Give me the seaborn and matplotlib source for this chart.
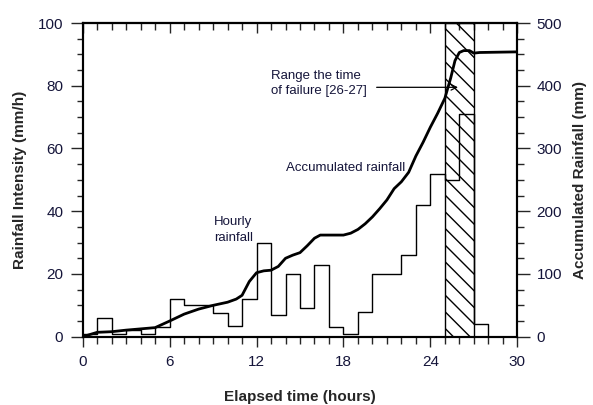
import matplotlib
matplotlib.use("Agg")
import matplotlib.pyplot as plt
import seaborn as sns
import pandas as pd
from matplotlib.ticker import MultipleLocator

# hourly rainfall intensity (mm/h), one value per hour bin [h, h+1)
hours = list(range(30))
hourly = [1, 6, 1, 2, 1, 3, 12, 10, 10, 7.5, 3.5, 12, 30, 7, 20, 9, 23, 3, 1, 8,
          20, 20, 26, 42, 52, 50, 71, 4, 0, 0]

# accumulated rainfall curve (mm)
acc_time = [0, 1, 2, 3, 4, 5, 6, 7, 8, 9, 10, 10.6, 11, 11.5, 12, 12.5, 13, 13.5,
            14, 14.5, 15, 15.5, 16, 16.4, 17, 18, 18.5, 19, 19.5, 20, 20.5, 21,
            21.5, 22, 22.5, 23, 23.5, 24, 24.5, 25, 25.4, 25.7, 26, 26.3, 26.7,
            27, 27.4, 30]
acc_rain = [0, 7, 8, 10.5, 12.5, 14.5, 25, 36, 44, 50, 55, 60, 66, 88, 102, 105,
            106, 112, 125, 130, 134, 145, 157, 162, 162, 162, 165, 171, 180, 191,
            204, 218, 236, 247, 262, 288, 310, 334, 356, 380, 412, 440, 453, 456,
            456, 452, 453, 454]

failure_window = (25, 27)

sns.set_style("ticks")
plt.rcParams["font.family"] = ["Liberation Sans", "DejaVu Sans"]
txt_col = "#15153a"

df_hr = pd.DataFrame({"hour": hours, "rain": hourly})
df_acc = pd.DataFrame({"t": acc_time, "acc": acc_rain})

fig = plt.figure(figsize=(5.93, 4.05), dpi=100)
ax = fig.add_axes([0.1395, 0.1686, 0.7328, 0.7746])

# hatched window for the time of failure
ax.axvspan(*failure_window, facecolor="none", edgecolor="black", hatch="\\\\", lw=1, zorder=1)

sns.histplot(data=df_hr, x="hour", weights="rain", bins=list(range(0, 31)),
             element="step", fill=False, color="black", lw=1, ax=ax, zorder=3)

ax.set_xlim(0, 30)
ax.set_ylim(0, 100)
ax.xaxis.set_major_locator(MultipleLocator(6))
ax.xaxis.set_minor_locator(MultipleLocator(1))
ax.yaxis.set_major_locator(MultipleLocator(20))
ax.yaxis.set_minor_locator(MultipleLocator(5))
ax.tick_params(axis="x", which="major", direction="out", length=7, width=1, pad=6,
               labelsize=11, labelcolor=txt_col)
ax.tick_params(axis="x", which="minor", direction="out", length=5, width=1)
ax.tick_params(axis="y", which="major", direction="out", length=9, width=1, pad=5,
               labelsize=11, labelcolor=txt_col)
ax.tick_params(axis="y", which="minor", direction="out", length=4.5, width=1)

top = ax.secondary_xaxis("top")
top.xaxis.set_major_locator(MultipleLocator(6))
top.xaxis.set_minor_locator(MultipleLocator(1))
top.tick_params(which="major", direction="in", length=7, width=1, labeltop=False)
top.tick_params(which="minor", direction="in", length=5, width=1)

ax2 = ax.twinx()
sns.lineplot(data=df_acc, x="t", y="acc", color="black", lw=2, ax=ax2)
ax2.set_ylim(0, 500)
ax2.yaxis.set_major_locator(MultipleLocator(100))
ax2.yaxis.set_minor_locator(MultipleLocator(25))
ax2.tick_params(axis="y", which="major", direction="out", length=9, width=1, pad=5,
                labelsize=11, labelcolor=txt_col)
ax2.tick_params(axis="y", which="minor", direction="out", length=5, width=1)

for a in (ax, ax2):
    for s in a.spines.values():
        s.set_linewidth(1.5)
        s.set_color("black")
for s in top.spines.values():
    s.set_linewidth(1.5)

ax.set_xlabel("Elapsed time (hours)", fontsize=11, fontweight="bold", labelpad=15)
ax.set_ylabel("Rainfall Intensity (mm/h)", fontsize=11, fontweight="bold", labelpad=8)
ax2.set_ylabel("Accumulated Rainfall (mm)", fontsize=11, fontweight="bold", labelpad=8)

ax.text(13.0, 80.8, "Range the time\nof failure [26-27]", fontsize=9.5, color=txt_col,
        ha="left", va="center", linespacing=1.35)
ax.annotate("", xy=(26.1, 79.5), xytext=(20.1, 79.5),
            arrowprops=dict(arrowstyle="->", color="black", lw=0.9))
ax.text(14.0, 53.8, "Accumulated rainfall", fontsize=9.5, color=txt_col, ha="left", va="center")
ax.text(9.05, 34.0, "Hourly\nrainfall", fontsize=9.5, color=txt_col, ha="left", va="center",
        linespacing=1.35)

fig.savefig("out.png", dpi=100)
